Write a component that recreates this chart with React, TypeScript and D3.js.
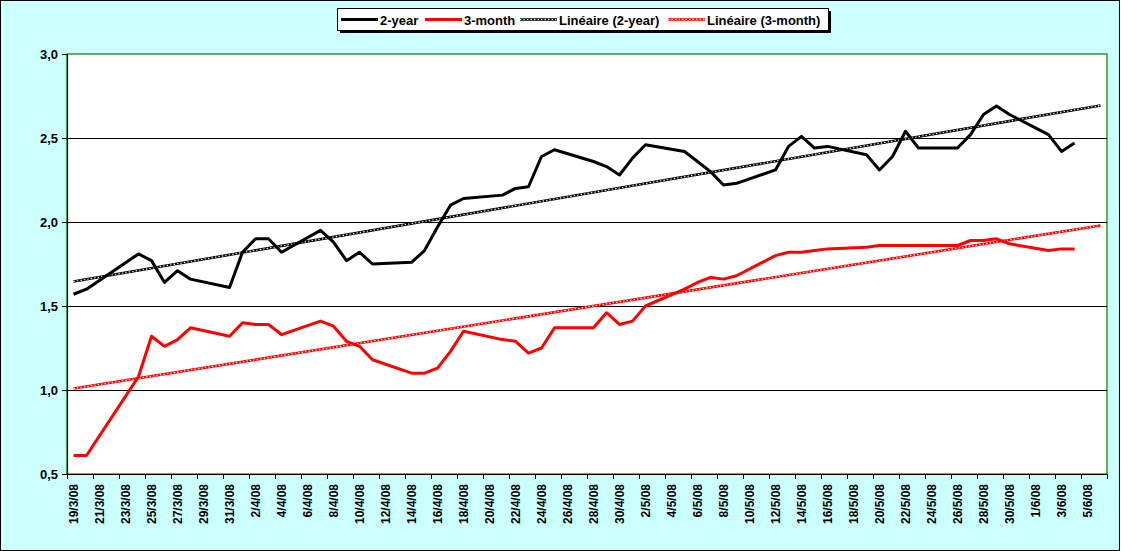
import React, { useEffect, useRef } from "react";
import * as d3 from "d3";

// trading days shown on the chart (d/m/yy)
const tradeDates = [
    "19/3/08", "20/3/08", "24/3/08", "25/3/08", "26/3/08", "27/3/08", "28/3/08", "31/3/08",
    "1/4/08", "2/4/08", "3/4/08", "4/4/08", "7/4/08", "8/4/08", "9/4/08", "10/4/08", "11/4/08",
    "14/4/08", "15/4/08", "16/4/08", "17/4/08", "18/4/08", "21/4/08", "22/4/08", "23/4/08",
    "24/4/08", "25/4/08", "28/4/08", "29/4/08", "30/4/08",
    "1/5/08", "2/5/08", "5/5/08", "6/5/08", "7/5/08", "8/5/08", "9/5/08", "12/5/08", "13/5/08",
    "14/5/08", "15/5/08", "16/5/08", "19/5/08", "20/5/08", "21/5/08", "22/5/08", "23/5/08",
    "26/5/08", "27/5/08", "28/5/08", "29/5/08", "30/5/08",
    "2/6/08", "3/6/08", "4/6/08",
];

const twoYear = [
    1.57, 1.6, 1.81, 1.77, 1.64, 1.71, 1.66, 1.61,
    1.82, 1.9, 1.9, 1.82, 1.95, 1.88, 1.77, 1.82, 1.75,
    1.76, 1.83, 1.97, 2.1, 2.14, 2.16, 2.2, 2.21,
    2.39, 2.43, 2.36, 2.33, 2.28,
    2.38, 2.46, 2.42, 2.36, 2.3, 2.22, 2.23, 2.31, 2.45,
    2.51, 2.44, 2.45, 2.4, 2.31, 2.39, 2.54, 2.44,
    2.44, 2.52, 2.64, 2.69, 2.64,
    2.52, 2.42, 2.47,
];

const threeMonth = [
    0.61, 0.61, 1.08, 1.32, 1.26, 1.3, 1.37, 1.32,
    1.4, 1.39, 1.39, 1.33, 1.41, 1.38, 1.29, 1.26, 1.18,
    1.1, 1.1, 1.13, 1.23, 1.35, 1.3, 1.29, 1.22,
    1.25, 1.37, 1.37, 1.46, 1.39,
    1.41, 1.5, 1.6, 1.64, 1.67, 1.66, 1.68, 1.8, 1.82,
    1.82, 1.83, 1.84, 1.85, 1.86, 1.86, 1.86, 1.86,
    1.86, 1.89, 1.89, 1.9, 1.87,
    1.83, 1.84, 1.84,
];

const yTicks = [0.5, 1.0, 1.5, 2.0, 2.5, 3.0];
const seriesNames = ["2-year", "3-month", "Linéaire (2-year)", "Linéaire (3-month)"];
const seriesColors = ["#000000", "#ff0000", "#000000", "#ff0000"];

const W = 1121;
const H = 551;
const FONT = "'Liberation Sans', Arial, sans-serif";

const App: React.FC = () => {
    const svgRef = useRef<SVGSVGElement | null>(null);

    useEffect(() => {
        if (!svgRef.current) return;
        const svg = d3.select(svgRef.current);
        svg.selectAll("*").remove();

        const margins = { top: 54, left: 67, right: 14, bottom: 77 };
        const fmt = d3.timeFormat("%-d/%-m/%y");
        const days = d3.timeDay.range(new Date(2008, 2, 19), new Date(2008, 5, 7)).map(fmt);

        const x = d3
            .scaleBand<string>()
            .domain(days)
            .range([margins.left, W - margins.right])
            .padding(0);
        const cx = (d: string) => (x(d) ?? 0) + x.bandwidth() / 2;

        const y = d3
            .scaleLinear()
            .domain([0.5, 3.0])
            .range([H - margins.bottom, margins.top]);

        // background + chart border
        svg.append("rect")
            .attr("x", 0.5)
            .attr("y", 0.5)
            .attr("width", W - 2)
            .attr("height", H - 1)
            .attr("fill", "#ccffff")
            .attr("stroke", "#000");

        // plot area
        svg.append("rect")
            .attr("x", margins.left)
            .attr("y", margins.top)
            .attr("width", W - margins.right - margins.left)
            .attr("height", H - margins.bottom - margins.top)
            .attr("fill", "#fff")
            .attr("stroke", "#008000")
            .attr("stroke-width", 1.2);

        // gridlines
        svg.append("g")
            .selectAll("line")
            .data(yTicks.filter((t) => t > 0.5 && t < 3))
            .join("line")
            .attr("x1", margins.left)
            .attr("x2", W - margins.right)
            .attr("y1", (d) => Math.round(y(d)) + 0.5)
            .attr("y2", (d) => Math.round(y(d)) + 0.5)
            .attr("stroke", "#000")
            .attr("stroke-width", 1.2);

        // y axis
        svg.append("g")
            .attr("transform", `translate(${margins.left},0)`)
            .call(
                d3
                    .axisLeft(y)
                    .tickValues(yTicks)
                    .tickSize(5)
                    .tickPadding(4)
                    .tickFormat((d) => d3.format(".1f")(d as number).replace(".", ","))
            )
            .call((g) => g.select(".domain").attr("stroke", "#000").attr("stroke-width", 1.2))
            .call((g) => g.selectAll(".tick line").attr("stroke", "#000"))
            .call((g) =>
                g
                    .selectAll(".tick text")
                    .attr("fill", "#000")
                    .attr("font-family", FONT)
                    .attr("font-weight", "bold")
                    .attr("font-size", 13)
            );

        // x axis: ticks on category boundaries every 2 days, labels at centres
        const xg = svg.append("g");
        xg.append("line")
            .attr("x1", margins.left)
            .attr("x2", W - margins.right)
            .attr("y1", H - margins.bottom + 0.5)
            .attr("y2", H - margins.bottom + 0.5)
            .attr("stroke", "#000")
            .attr("stroke-width", 1.2);
        const labelDays = days.filter((_, i) => i % 2 === 0);
        xg.selectAll("line.tick")
            .data([...labelDays.map((d) => x(d) ?? 0), W - margins.right])
            .join("line")
            .attr("class", "tick")
            .attr("x1", (d) => Math.round(d) + 0.5)
            .attr("x2", (d) => Math.round(d) + 0.5)
            .attr("y1", H - margins.bottom)
            .attr("y2", H - margins.bottom + 5)
            .attr("stroke", "#000");
        xg.selectAll("text")
            .data(labelDays)
            .join("text")
            .attr("transform", (d) => `translate(${cx(d)},${H - margins.bottom + 10}) rotate(-90)`)
            .attr("text-anchor", "end")
            .attr("dy", "0.35em")
            .attr("font-family", FONT)
            .attr("font-weight", "bold")
            .attr("font-size", 12)
            .attr("fill", "#000")
            .text((d) => d);

        // linear trend (least squares over day index)
        const dayIndex = tradeDates.map((d) => days.indexOf(d));
        const trend = (vals: number[]) => {
            const mx = d3.mean(dayIndex) as number;
            const my = d3.mean(vals) as number;
            const sxy = d3.sum(dayIndex, (xi, i) => (xi - mx) * (vals[i] - my));
            const sxx = d3.sum(dayIndex, (xi) => (xi - mx) ** 2);
            const b = sxy / sxx;
            const a = my - b * mx;
            return [0, days.length - 1].map((i) => ({ d: days[i], v: a + b * i }));
        };

        const tLine = d3
            .line<{ d: string; v: number }>()
            .x((p) => cx(p.d))
            .y((p) => y(p.v));

        // dotted "chain" look of the trend lines
        const chain = (sel: d3.Selection<SVGGElement, unknown, null, undefined>, d: string, color: string) => {
            sel.append("path")
                .attr("d", d)
                .attr("fill", "none")
                .attr("stroke", color)
                .attr("stroke-width", 2.6);
            sel.append("path")
                .attr("d", d)
                .attr("fill", "none")
                .attr("stroke", "#fff")
                .attr("stroke-width", 1.1)
                .attr("stroke-dasharray", "1.4,2.1");
        };

        [twoYear, threeMonth].forEach((vals, k) => {
            chain(svg.append("g"), tLine(trend(vals)) ?? "", seriesColors[k + 2]);
        });

        // series
        const line = d3
            .line<number>()
            .x((_, i) => cx(tradeDates[i]))
            .y((v) => y(v));

        [twoYear, threeMonth].forEach((vals, k) => {
            svg.append("path")
                .attr("d", line(vals))
                .attr("fill", "none")
                .attr("stroke", seriesColors[k])
                .attr("stroke-width", 3)
                .attr("stroke-linejoin", "round");
        });

        // legend
        const lg = svg.append("g");
        lg.append("rect")
            .attr("x", 340)
            .attr("y", 11)
            .attr("width", 491)
            .attr("height", 22)
            .attr("fill", "#000");
        lg.append("rect")
            .attr("x", 337.5)
            .attr("y", 8.5)
            .attr("width", 491)
            .attr("height", 22)
            .attr("fill", "#fff")
            .attr("stroke", "#000");

        const sampleX = [341, 425, 520, 668];
        seriesNames.forEach((name, i) => {
            const sx = sampleX[i];
            const path = `M${sx},19.5H${sx + 37}`;
            if (i >= 2) {
                chain(lg.append("g"), path, seriesColors[i]);
            } else {
                lg.append("path")
                    .attr("d", path)
                    .attr("stroke", seriesColors[i])
                    .attr("stroke-width", 3);
            }
            lg.append("text")
                .attr("x", sx + 39)
                .attr("y", 20)
                .attr("dy", "0.35em")
                .attr("font-family", FONT)
                .attr("font-weight", "bold")
                .attr("font-size", 13)
                .attr("fill", "#000")
                .text(name);
        });
    }, []);

    return (
        <svg
            ref={svgRef}
            width={W}
            height={H}
            style={{ position: "absolute", left: 0, top: 0, display: "block" }}
        ></svg>
    );
};

export default App;
